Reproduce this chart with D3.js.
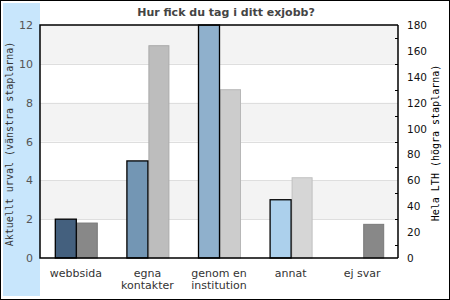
<!DOCTYPE html>
<html>
<head>
<meta charset="utf-8">
<script src="https://cdn.jsdelivr.net/npm/d3@7"></script>
<style>
  body { margin: 0; background: #fff; }
  svg { display: block; }
</style>
</head>
<body>
<svg width="450" height="300"></svg>
<script>
const categories = [['webbsida'], ['egna', 'kontakter'], ['genom en', 'institution'], ['annat'], ['ej svar']];
const urval = [2, 5, 12, 3, 0];
const helaLth = [27, 164, 130, 62, 26];
const leftTicks = [0, 2, 4, 6, 8, 10, 12];
const rightTicks = [0, 20, 40, 60, 80, 100, 120, 140, 160, 180];
const minorTicks = [10, 30, 50, 70, 90, 110, 130, 150, 170];
const leftColors = ['#44607e', '#7396b4', '#8fb0cc', '#acd0ec', '#888888'];
const rightColors = ['#888888', '#bdbdbd', '#cccccc', '#d6d6d6', '#888888'];

const svg = d3.select('svg');
const pLeft = 40, pRight = 398, pTop = 25, pBottom = 258;

const x = d3.scaleBand().domain(d3.range(categories.length)).range([pLeft, pRight]);
const yL = d3.scaleLinear().domain([0, 12]).range([pBottom, pTop]);
const yR = d3.scaleLinear().domain([0, 180]).range([pBottom, pTop]);
const barW = 21;

// frame + side band
svg.append('rect').attr('x', 0.5).attr('y', 0.5).attr('width', 449).attr('height', 299)
  .style('fill', '#fff').style('stroke', '#000');
svg.append('rect').attr('x', 3).attr('y', 3).attr('width', pLeft - 3).attr('height', 293)
  .style('fill', '#c8e6fc');

// alternating bands
svg.selectAll('rect.band')
  .data([[10, 12], [6, 8], [2, 4]])
  .enter()
  .append('rect')
  .attr('class', 'band')
  .attr('x', pLeft)
  .attr('y', d => yL(d[1]))
  .attr('width', pRight - pLeft)
  .attr('height', d => yL(d[0]) - yL(d[1]))
  .style('fill', '#f3f3f3');

svg.selectAll('line.grid')
  .data(leftTicks.slice(1, -1))
  .enter()
  .append('line')
  .attr('class', 'grid')
  .attr('x1', pLeft).attr('x2', pRight)
  .attr('y1', d => Math.round(yL(d)) + 0.5)
  .attr('y2', d => Math.round(yL(d)) + 0.5)
  .style('stroke', '#dedede');

// bars
svg.selectAll('rect.rbar')
  .data(helaLth)
  .enter()
  .append('rect')
  .attr('class', 'rbar')
  .attr('x', (d, i) => x(i) + x.bandwidth() / 2 + 1.5)
  .attr('y', d => yR(d))
  .attr('width', barW - 1)
  .attr('height', d => pBottom - yR(d))
  .style('fill', (d, i) => rightColors[i])
  .style('stroke', (d, i) => d3.color(rightColors[i]).darker(0.3))
  .style('stroke-width', '1px');

svg.selectAll('rect.lbar')
  .data(urval.map((v, i) => ({ v, i })).filter(d => d.v > 0))
  .enter()
  .append('rect')
  .attr('class', 'lbar')
  .attr('x', d => x(d.i) + x.bandwidth() / 2 - barW + 0.5)
  .attr('y', d => yL(d.v))
  .attr('width', barW)
  .attr('height', d => pBottom - yL(d.v))
  .style('fill', d => leftColors[d.i])
  .style('stroke', '#000')
  .style('stroke-width', '1.3px');

// plot frame
svg.append('path')
  .attr('d', `M${pRight},${pTop}H${pLeft}V${pBottom}H${pRight}`)
  .style('fill', 'none').style('stroke', '#000').style('stroke-width', '1.5px');
svg.append('line')
  .attr('x1', pRight).attr('x2', pRight).attr('y1', pTop).attr('y2', pBottom)
  .style('stroke', '#000').style('stroke-width', '1.5px');

// left axis
svg.selectAll('text.yl')
  .data(leftTicks)
  .enter()
  .append('text')
  .attr('class', 'yl')
  .attr('x', 33)
  .attr('y', d => yL(d) + 4)
  .attr('text-anchor', 'end')
  .style('font', '11px "DejaVu Sans", sans-serif')
  .style('fill', '#555')
  .text(d => d);

// right axis
svg.selectAll('line.minor')
  .data(minorTicks)
  .enter()
  .append('line')
  .attr('class', 'minor')
  .attr('x1', pRight - 3).attr('x2', pRight)
  .attr('y1', d => Math.round(yR(d)) + 0.5)
  .attr('y2', d => Math.round(yR(d)) + 0.5)
  .style('stroke', '#000');

svg.selectAll('text.yr')
  .data(rightTicks)
  .enter()
  .append('text')
  .attr('class', 'yr')
  .attr('x', 407)
  .attr('y', d => yR(d) + 4)
  .style('font', '10.5px "DejaVu Sans", sans-serif')
  .style('fill', '#111')
  .text(d => d);

// category labels
svg.selectAll('text.cat')
  .data(categories)
  .enter()
  .append('text')
  .attr('class', 'cat')
  .attr('text-anchor', 'middle')
  .style('font', '11px "DejaVu Sans", sans-serif')
  .style('fill', '#333')
  .each(function (d, i) {
    d3.select(this).selectAll('tspan')
      .data(d)
      .enter()
      .append('tspan')
      .attr('x', x(i) + x.bandwidth() / 2)
      .attr('y', (t, j) => 277 + j * 12)
      .text(t => t);
  });

// titles
svg.append('text')
  .attr('x', 226).attr('y', 16)
  .attr('text-anchor', 'middle')
  .style('font', 'bold 11px "DejaVu Sans", sans-serif')
  .style('fill', '#444')
  .text('Hur fick du tag i ditt exjobb?');

svg.append('text')
  .attr('transform', 'translate(13,144) rotate(-90)')
  .attr('text-anchor', 'middle')
  .style('font', '10px "DejaVu Sans Mono", monospace')
  .style('fill', '#333')
  .text('Aktuellt urval (vänstra staplarna)');

svg.append('text')
  .attr('transform', 'translate(439,143) rotate(-90)')
  .attr('text-anchor', 'middle')
  .style('font', '10px "DejaVu Sans Mono", monospace')
  .style('fill', '#000')
  .text('Hela LTH (högra staplarna)');
</script>
</body>
</html>
